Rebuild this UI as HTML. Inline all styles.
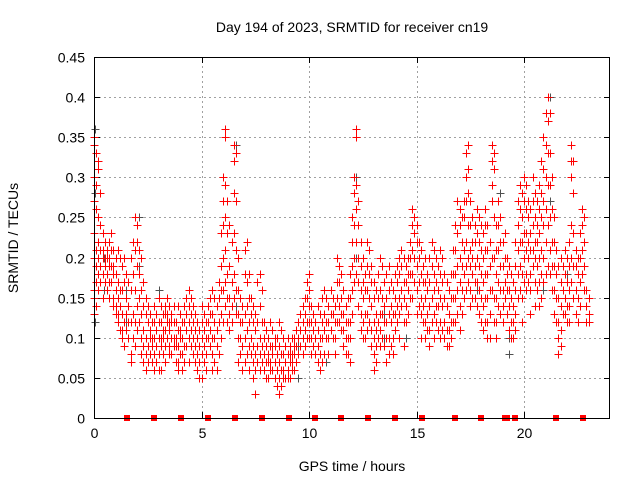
<!DOCTYPE html>
<html><head><meta charset="utf-8"><style>
body{margin:0;background:#fff;}
svg{display:block;font-family:"Liberation Sans",sans-serif;}
</style></head><body>
<svg id="chart" width="640" height="480">
<text x="352" y="32" text-anchor="middle" font-size="14">Day 194 of 2023, SRMTID for receiver cn19</text>
<text x="352" y="471" text-anchor="middle" font-size="14">GPS time / hours</text>
<text transform="translate(18,238) rotate(-90)" text-anchor="middle" font-size="14">SRMTID / TECUs</text>
<g id="grid"></g><g id="ticks"></g><g id="marks"></g>
<rect x="94.5" y="57.5" width="515" height="361" fill="none" stroke="#000" stroke-width="1"/>
</svg>
<script>
const xTicks=[0,5,10,15,20];
const yTicks=[0,0.05,0.1,0.15,0.2,0.25,0.3,0.35,0.4,0.45];
const yTickLabels=["0","0.05","0.1","0.15","0.2","0.25","0.3","0.35","0.4","0.45"];
const gapTimes=[1.54,2.8,4.05,5.3,6.55,7.8,9.05,10.3,11.5,12.75,14.0,15.25,16.8,18.0,19.1,19.2,19.6,21.5,22.75];
const redTimes=[0,0.1,0.2,0.3,0.4,0.5,0.6,0.7,0.8,0.9,1.0,1.1,1.2,1.3,1.4,1.5,1.6,1.7,1.8,1.9,2.0,2.1,2.2,2.3,2.4,2.5,2.6,2.7,2.8,2.9,3.0,3.1,3.2,3.3,3.4,3.5,3.6,3.7,3.8,3.9,4.0,4.1,4.2,4.3,4.4,4.5,4.6,4.7,4.8,4.9,5.0,5.1,5.2,5.3,5.4,5.5,5.6,5.7,5.8,5.9,6.0,6.1,6.2,6.3,6.4,6.5,6.6,6.7,6.8,6.9,7.0,7.1,7.2,7.3,7.4,7.5,7.6,7.7,7.8,7.9,8.0,8.1,8.2,8.3,8.4,8.5,8.6,8.7,8.8,8.9,9.0,9.1,9.2,9.3,9.4,9.5,9.6,9.7,9.8,9.9,10.0,10.1,10.2,10.3,10.4,10.5,10.6,10.7,10.8,10.9,11.0,11.1,11.2,11.3,11.4,11.5,11.6,11.7,11.8,11.9,12.0,12.1,12.2,12.3,12.4,12.5,12.6,12.7,12.8,12.9,13.0,13.1,13.2,13.3,13.4,13.5,13.6,13.7,13.8,13.9,14.0,14.1,14.2,14.3,14.4,14.5,14.6,14.7,14.8,14.9,15.0,15.1,15.2,15.3,15.4,15.5,15.6,15.7,15.8,15.9,16.0,16.1,16.2,16.3,16.4,16.5,16.6,16.7,16.8,16.9,17.0,17.1,17.2,17.3,17.4,17.5,17.6,17.7,17.8,17.9,18.0,18.1,18.2,18.3,18.4,18.5,18.6,18.7,18.8,18.9,19.0,19.1,19.2,19.3,19.4,19.5,19.6,19.7,19.8,19.9,20.0,20.1,20.2,20.3,20.4,20.5,20.6,20.7,20.8,20.9,21.0,21.1,21.2,21.3,21.4,21.5,21.6,21.7,21.8,21.9,22.0,22.1,22.2,22.3,22.4,22.5,22.6,22.7,22.8,22.9,23.0];
const redValues=[
[0.35,0.34,0.3,0.27,0.23,0.2,0.16,0.15,0.13],[0.33,0.29,0.26,0.21,0.19,0.17,0.14],[0.32,0.31,0.25,0.22,0.2,0.18,0.16],[0.28,0.24,0.21,0.19,0.17],[0.23,0.21,0.2,0.18,0.15],[0.22,0.2,0.19,0.17],[0.21,0.2,0.18,0.16],[0.22,0.2,0.19,0.17,0.15],[0.23,0.21,0.19,0.17],[0.21,0.19,0.18,0.15,0.14],
[0.2,0.18,0.16,0.14,0.13],[0.21,0.17,0.15,0.13,0.12],[0.2,0.16,0.14,0.11],[0.19,0.16,0.13,0.11,0.1],[0.2,0.17,0.12,0.09],[0.18,0.15,0.13,0.11],[0.17,0.14,0.12,0.1],[0.2,0.16,0.12,0.08,0.07],[0.22,0.18,0.13,0.1],[0.25,0.21,0.16,0.12,0.09],
[0.24,0.22,0.19,0.14,0.11],[0.21,0.18,0.15,0.12],[0.2,0.16,0.13,0.1,0.08],[0.17,0.14,0.11,0.09,0.07],[0.15,0.13,0.1,0.08,0.06],[0.14,0.12,0.09,0.07],[0.13,0.11,0.1,0.08],[0.12,0.1,0.09,0.07],[0.14,0.12,0.1,0.08,0.06],[0.13,0.11,0.09,0.07],
[0.15,0.12,0.1,0.08,0.06],[0.14,0.12,0.1,0.09,0.06],[0.13,0.11,0.1,0.08],[0.14,0.13,0.11,0.09,0.07],[0.15,0.13,0.12,0.1],[0.14,0.12,0.11,0.09,0.08],[0.13,0.12,0.1,0.08],[0.14,0.12,0.1,0.09],[0.12,0.1,0.09,0.07],[0.14,0.11,0.09,0.07,0.06],
[0.13,0.11,0.1,0.08],[0.12,0.1,0.08,0.06],[0.14,0.12,0.09,0.07],[0.15,0.13,0.11,0.09],[0.16,0.14,0.12,0.1,0.07],[0.15,0.13,0.11,0.09],[0.14,0.12,0.1,0.08],[0.13,0.11,0.09,0.07],[0.12,0.1,0.08,0.06],[0.11,0.09,0.07,0.05],
[0.14,0.12,0.1,0.08,0.05],[0.13,0.11,0.09,0.07],[0.12,0.1,0.08,0.06],[0.14,0.12,0.1],[0.15,0.13,0.11,0.09],[0.16,0.13,0.1,0.08,0.06],[0.15,0.12,0.1,0.07],[0.14,0.11,0.09,0.06],[0.17,0.15,0.12,0.08],[0.23,0.19,0.16,0.13,0.1],
[0.3,0.27,0.24,0.2,0.16,0.12],[0.36,0.35,0.29,0.25,0.21,0.17,0.14],[0.27,0.23,0.18,0.15,0.12],[0.24,0.19,0.15,0.13,0.11],[0.22,0.17,0.14,0.12],[0.34,0.32,0.28,0.23,0.18,0.15],[0.33,0.27,0.21,0.16,0.13],[0.2,0.16,0.13,0.1,0.07],[0.15,0.12,0.1,0.08],[0.14,0.12,0.09,0.06],
[0.21,0.18,0.13,0.1,0.07],[0.22,0.17,0.14,0.11,0.08],[0.18,0.15,0.12,0.09,0.06],[0.15,0.13,0.1,0.08],[0.14,0.12,0.09,0.07,0.05],[0.13,0.11,0.08,0.06,0.03],[0.17,0.12,0.09,0.07],[0.18,0.14,0.1,0.08,0.06],[0.16,0.12,0.09,0.07],[0.12,0.1,0.08,0.06],
[0.11,0.09,0.07,0.05],[0.1,0.08,0.07,0.05],[0.12,0.09,0.07,0.06],[0.11,0.09,0.08,0.06],[0.1,0.09,0.07,0.05],[0.1,0.08,0.06,0.04],[0.12,0.09,0.07,0.05,0.03],[0.11,0.08,0.06,0.04],[0.1,0.08,0.06,0.05],[0.09,0.07,0.05],
[0.1,0.08,0.06,0.05],[0.09,0.08,0.07,0.05],[0.1,0.08,0.07,0.06],[0.1,0.09,0.08,0.06],[0.11,0.09,0.07],[0.12,0.1,0.08],[0.13,0.11,0.09],[0.14,0.12,0.1,0.08],[0.15,0.13,0.11,0.09],[0.17,0.15,0.12,0.1],
[0.18,0.16,0.14,0.12,0.1],[0.14,0.12,0.1,0.08],[0.13,0.11,0.09],[0.12,0.1,0.08],[0.14,0.11,0.09,0.07],[0.13,0.1,0.08,0.06],[0.15,0.12,0.1,0.07],[0.16,0.13,0.11,0.08],[0.15,0.12,0.1],[0.14,0.12,0.1,0.08],
[0.16,0.13,0.11],[0.15,0.13,0.1],[0.14,0.12,0.1,0.08],[0.2,0.17,0.15,0.12],[0.19,0.17,0.14,0.12],[0.18,0.15,0.13,0.11],[0.16,0.13,0.11,0.09],[0.14,0.12,0.1,0.08],[0.15,0.12,0.1,0.08],[0.18,0.15,0.12,0.1,0.07],
[0.25,0.22,0.19,0.16,0.13],[0.3,0.28,0.24,0.2,0.17],[0.36,0.35,0.29,0.26,0.22,0.18],[0.27,0.24,0.2,0.17,0.14],[0.22,0.19,0.16,0.13,0.11],[0.2,0.17,0.15,0.12,0.1],[0.18,0.16,0.13,0.1],[0.22,0.19,0.16,0.13,0.11],[0.21,0.18,0.15,0.12],[0.19,0.17,0.14,0.11,0.09],
[0.17,0.15,0.12,0.1,0.08,0.06],[0.16,0.13,0.11,0.09,0.07],[0.18,0.15,0.12,0.1],[0.2,0.16,0.13,0.11,0.09],[0.19,0.15,0.13,0.1],[0.17,0.14,0.12,0.09],[0.18,0.15,0.12,0.1,0.07],[0.19,0.16,0.13,0.1,0.08],[0.17,0.14,0.12,0.09],[0.16,0.13,0.1,0.08],
[0.18,0.15,0.13,0.11],[0.19,0.17,0.14,0.12],[0.2,0.18,0.15,0.13,0.1],[0.21,0.19,0.16,0.14],[0.2,0.17,0.15,0.12,0.09],[0.19,0.17,0.14,0.12],[0.2,0.18,0.16,0.13],[0.22,0.2,0.18,0.15],[0.26,0.24,0.21,0.18,0.15],[0.25,0.23,0.2,0.17],
[0.24,0.22,0.19,0.16,0.13],[0.22,0.2,0.17,0.14],[0.21,0.18,0.15,0.13,0.1],[0.19,0.17,0.14,0.12],[0.2,0.17,0.15,0.12,0.1],[0.18,0.16,0.13,0.11],[0.2,0.17,0.14,0.11,0.09],[0.22,0.19,0.15,0.12],[0.21,0.18,0.16,0.13,0.1],[0.2,0.17,0.14,0.12],
[0.19,0.16,0.14,0.11],[0.21,0.18,0.15,0.12,0.1],[0.2,0.17,0.14,0.11],[0.18,0.15,0.12,0.1],[0.17,0.14,0.11,0.09],[0.16,0.13,0.11,0.09],[0.18,0.15,0.12,0.1],[0.21,0.18,0.15,0.12],[0.24,0.21,0.18,0.15,0.12],[0.27,0.23,0.19,0.16,0.13],
[0.26,0.24,0.2,0.17,0.14,0.11],[0.25,0.22,0.19,0.16,0.13],[0.27,0.25,0.21,0.18,0.15],[0.33,0.3,0.27,0.22,0.19,0.16],[0.34,0.31,0.28,0.24,0.2,0.17],[0.27,0.24,0.21,0.19,0.16,0.14],[0.25,0.22,0.2,0.18,0.15],[0.24,0.22,0.19,0.17,0.15],[0.26,0.23,0.2,0.17,0.14],[0.25,0.22,0.19,0.16,0.13],
[0.24,0.21,0.18,0.15,0.12],[0.23,0.2,0.17,0.14,0.11],[0.26,0.24,0.21,0.18,0.15,0.12],[0.24,0.21,0.18,0.15,0.12,0.1],[0.22,0.19,0.16,0.13,0.1],[0.34,0.32,0.29,0.27,0.2,0.16],[0.33,0.31,0.25,0.2,0.15,0.12],[0.24,0.21,0.18,0.15,0.12,0.1],[0.27,0.24,0.21,0.17,0.14],[0.25,0.22,0.19,0.16,0.13],
[0.22,0.19,0.16,0.14,0.12],[0.23,0.2,0.17,0.15],[0.2,0.18,0.16,0.13],[0.19,0.16,0.14,0.11],[0.18,0.15,0.12,0.1],[0.17,0.14,0.12,0.1],[0.22,0.19,0.16,0.13,0.11],[0.27,0.24,0.21,0.18,0.15],[0.29,0.26,0.22,0.19,0.16],[0.28,0.25,0.22,0.18,0.15,0.12],
[0.3,0.27,0.23,0.2,0.17],[0.29,0.26,0.23,0.21,0.18,0.16],[0.27,0.25,0.22,0.2,0.17],[0.26,0.23,0.21,0.18,0.16,0.13],[0.3,0.27,0.24,0.21,0.19],[0.28,0.25,0.22,0.2,0.17,0.14],[0.27,0.24,0.22,0.19,0.16],[0.29,0.26,0.23,0.2,0.17,0.14],[0.32,0.28,0.25,0.21,0.18,0.15],[0.35,0.31,0.27,0.24,0.2,0.17],
[0.38,0.34,0.3,0.26,0.22,0.18],[0.4,0.37,0.33,0.29,0.24,0.19],[0.38,0.33,0.29,0.25,0.21,0.18],[0.3,0.26,0.22,0.19,0.16],[0.25,0.22,0.19,0.16,0.13],[0.21,0.18,0.15,0.12],[0.19,0.15,0.12,0.1,0.08],[0.2,0.17,0.14,0.11,0.09],[0.19,0.16,0.13],[0.21,0.18,0.15,0.13],
[0.2,0.17,0.14,0.12],[0.22,0.19,0.16,0.14,0.12],[0.34,0.32,0.3,0.24,0.2,0.17],[0.32,0.28,0.23,0.19,0.15],[0.21,0.19,0.16,0.13],[0.2,0.18,0.15,0.12],[0.23,0.2,0.17,0.14],[0.26,0.24,0.21,0.18],[0.25,0.22,0.19,0.16],[0.16,0.14,0.12],[0.15,0.13,0.12]];
const grayTimes=[0.05,0.45,1.5,2.1,3.0,4.1,6.6,7.9,9.5,10.8,12.2,13.5,14.5,16.3,17.8,18.9,19.3,20.9,21.2,22.0];
const grayValues=[[0.36,0.28,0.12],[0.2,0.16],[0.16,0.12],[0.25,0.19],[0.16,0.1],[0.12,0.06],[0.34,0.14],[0.08,0.06],[0.09,0.05],[0.12,0.07],[0.3,0.2],[0.13,0.1],[0.17,0.1],[0.12,0.15],[0.2,0.16],[0.28,0.22],[0.1,0.08],[0.2,0.16],[0.4,0.27],[0.12,0.18]];

const X0=94,X1=610,Y0=418,Y1=57,XMAX=24,YMAX=0.45;
const sx=t=>X0+(X1-X0)*t/XMAX;
const sy=v=>Y0-(Y0-Y1)*v/YMAX;
const NS="http://www.w3.org/2000/svg";
const mk=(tag,attrs,parent)=>{const e=document.createElementNS(NS,tag);for(const k in attrs)e.setAttribute(k,attrs[k]);parent.appendChild(e);return e;};
const grid=document.getElementById('grid'),ticks=document.getElementById('ticks'),marks=document.getElementById('marks');
yTicks.forEach((v,i)=>{
  const y=Math.round(sy(v))+0.5;
  if(i>0&&i<yTicks.length-1){const g=mk('line',{x1:X0,x2:X1,y1:y,y2:y,stroke:'#a0a0a0','stroke-dasharray':'2,3'},grid);
  
  }
  mk('line',{x1:X0,x2:X0+6,y1:y,y2:y,stroke:'#000'},ticks);
  mk('line',{x1:X1,x2:X1-6,y1:y,y2:y,stroke:'#000'},ticks);
  const t=mk('text',{x:X0-9,y:y+5,'text-anchor':'end','font-size':'14'},ticks);t.textContent=yTickLabels[i];
  
  
});
xTicks.forEach(v=>{
  const x=Math.round(sx(v))+0.5;
  if(v>0){const g=mk('line',{x1:x,x2:x,y1:Y0,y2:Y1,stroke:'#a0a0a0','stroke-dasharray':'2,3'},grid);
  
  }
  mk('line',{x1:x,x2:x,y1:Y0,y2:Y0-6,stroke:'#000'},ticks);
  mk('line',{x1:x,x2:x,y1:Y1,y2:Y1+6,stroke:'#000'},ticks);
  const t=mk('text',{x:x,y:Y0+20,'text-anchor':'middle','font-size':'14'},ticks);t.textContent=String(v);
  
  
});
function crosses(times,values,color,name){
  let d='';
  times.forEach((t,i)=>{const x=Math.round(sx(t))+0.5;values[i].forEach(v=>{const y=Math.round(sy(v))+0.5;d+=`M${x-4},${y}h8M${x},${y-4}v8`;});});
  const p=mk('path',{d:d,stroke:color,'stroke-width':1,fill:'none','shape-rendering':'crispEdges'},marks);
  
  
}
crosses(grayTimes,grayValues,'#505050','receiver-gray-points');
crosses(redTimes,redValues,'#ff0000','srmtid-points');
gapTimes.forEach(t=>{
  const r=mk('rect',{x:Math.round(sx(t))-3,y:Y0-3,width:6,height:6,fill:'#ff0000'},marks);
  
  
});
</script>
</body></html>
